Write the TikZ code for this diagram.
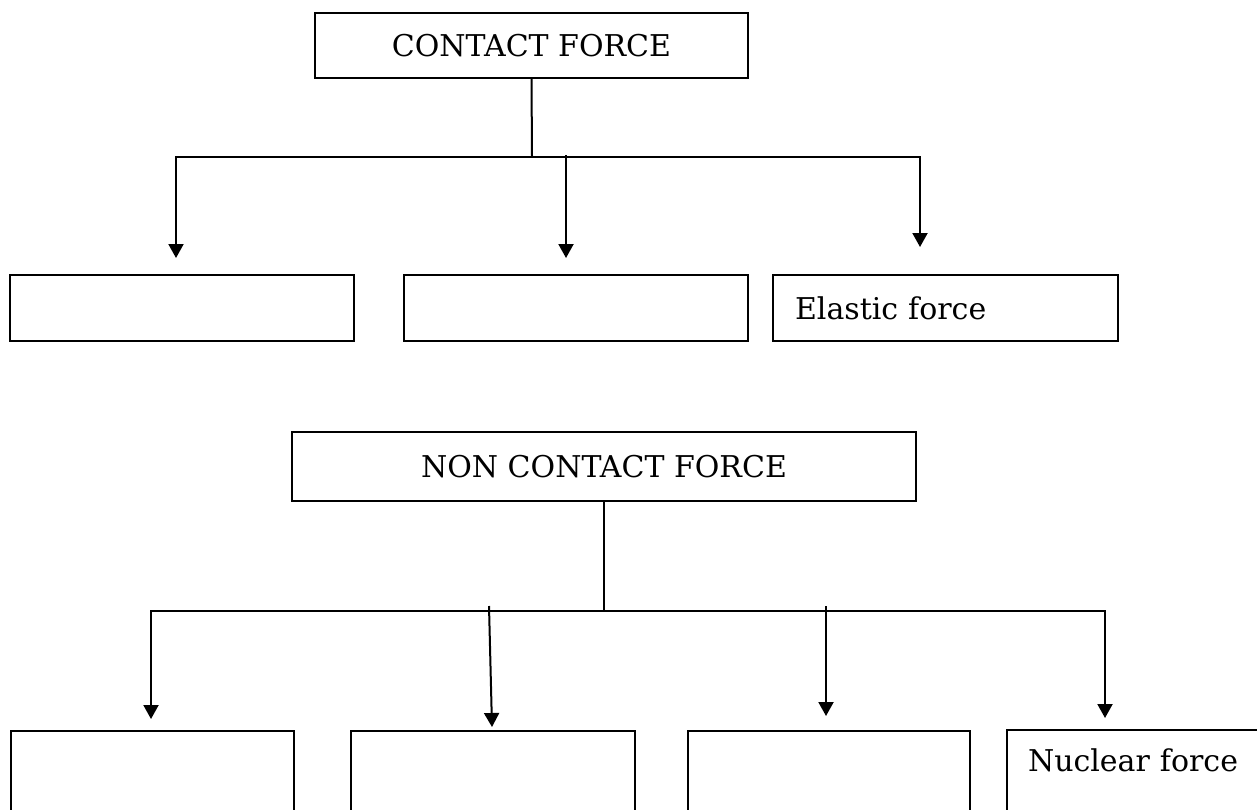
\documentclass[tikz,border=0pt]{standalone}
\usepackage{fontspec}
\setmainfont{DejaVu Serif}
\usetikzlibrary{arrows.meta}
\begin{document}
\begin{tikzpicture}[x=1pt, y=-1pt, line width=2pt, >={Triangle[length=14pt, width=15pt]},
    caja/.style={draw, rectangle, inner sep=0pt, font=\fontsize{30}{36}\selectfont},
    cajab/.style={caja, anchor=north west, minimum height=200pt}]
  \clip (0,0) rectangle (1257,809);
  % Fuerza de contacto
  \node[caja, minimum width=433pt, minimum height=65pt] (cf) at (531.5,45.5) {CONTACT FORCE};
  \node[caja, minimum width=344pt, minimum height=66pt] (c1) at (182,308) {};
  \node[caja, minimum width=344pt, minimum height=66pt] (c2) at (576,308) {};
  \node[caja, minimum height=66pt, text width=301pt, inner xsep=22pt, align=left] (c3) at (945.5,308) {Elastic force};
  % Ramas (contacto)
  \coordinate (j1) at (532,157);
  \coordinate (h1) at (176,157); \coordinate (t1) at (176,258);
  \coordinate (h2) at (566,155); \coordinate (t2) at (566,258);
  \coordinate (h3) at (920,157); \coordinate (t3) at (920,247);
  \draw (cf.south) -- (j1);
  \draw[<->] (t1) -- (h1) -- (h3) -- (t3);
  \draw[->] (h2) -- (t2);
  % Fuerza sin contacto
  \node[caja, minimum width=624pt, minimum height=69pt] (ncf) at (604,466.5) {NON CONTACT FORCE};
  \node[cajab, minimum width=283pt] (n1) at (10,730) {};
  \node[cajab, minimum width=284pt] (n2) at (350,730) {};
  \node[cajab, minimum width=282pt] (n3) at (687,730) {};
  \node[caja, anchor=north west, inner ysep=0pt, inner xsep=21pt, text width=248pt, align=left,
        text height=41pt, text depth=159pt] (n4) at (1006,729) {Nuclear force};
  % Ramas (sin contacto)
  \coordinate (j2) at (604,611);
  \coordinate (k1) at (151,611); \coordinate (e1) at (151,719);
  \coordinate (k2) at (489,606); \coordinate (e2) at (492,727);
  \coordinate (k3) at (826,606); \coordinate (e3) at (826,716);
  \coordinate (k4) at (1105,611); \coordinate (e4) at (1105,718);
  \draw (ncf.south) -- (j2);
  \draw[<->] (e1) -- (k1) -- (k4) -- (e4);
  \draw[->] (k2) -- (e2);
  \draw[->] (k3) -- (e3);
\end{tikzpicture}
\end{document}
